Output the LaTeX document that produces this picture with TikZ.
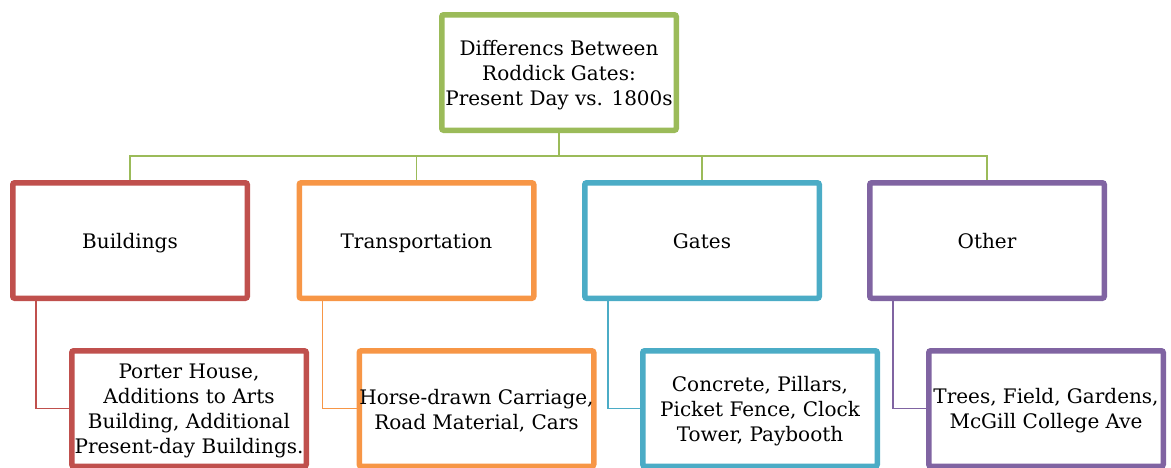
\documentclass[tikz,border=0pt]{standalone}
\usepackage{fontspec}
\setmainfont{DejaVu Serif}
\definecolor{cgreen}{HTML}{9BBB59}
\definecolor{cred}{HTML}{C0504D}
\definecolor{corange}{HTML}{F79646}
\definecolor{cblue}{HTML}{4BACC6}
\definecolor{cpurple}{HTML}{8064A2}
\newcommand\topst{\rule{0pt}{20pt}}
\newcommand\botst{\rule[-4pt]{0pt}{4pt}}
\begin{document}
\begin{tikzpicture}[x=1pt,y=-1pt,
  box/.style={draw=#1,line width=5.5pt,rounded corners=2pt,fill=white,
    minimum width=234.5pt,minimum height=115.5pt,inner sep=0pt,align=center,
    font=\fontsize{20}{25}\selectfont},
  conn/.style={draw=#1,line width=1.5pt}]
\useasboundingbox (0,0) rectangle (1171,467);
\clip (0,0) rectangle (1171,467);
\node[box=cgreen] (root) at (559,72.5) {\topst Differencs Between\\Roddick Gates:\\Present Day vs. 1800s\botst};
\node[box=cred] (c1) at (130,240.5) {\topst Buildings\botst};
\node[box=corange] (c2) at (416.5,240.5) {\topst Transportation\botst};
\node[box=cblue] (c3) at (702,240.5) {\topst Gates\botst};
\node[box=cpurple] (c4) at (987,240.5) {\topst Other\botst};
\node[box=cred] (g1) at (189,408.5) {\topst Porter House,\\Additions to Arts\\Building, Additional\\Present-day Buildings.\botst};
\node[box=corange] (g2) at (476.5,408.5) {\topst Horse-drawn Carriage,\\Road Material, Cars\botst};
\node[box=cblue] (g3) at (760,408.5) {\topst Concrete, Pillars,\\Picket Fence, Clock\\Tower, Paybooth\botst};
\node[box=cpurple] (g4) at (1046,408.5) {\topst Trees, Field, Gardens,\\McGill College Ave\botst};
\coordinate (bus) at (559,156);
\foreach \c in {c1,c2,c3,c4}
  \draw[conn=cgreen] (root.south) -- (root.south |- bus) -| (\c.north);
\draw[conn=cred] ([xshift=26pt]c1.south west) |- (g1.west);
\draw[conn=corange] ([xshift=26pt]c2.south west) |- (g2.west);
\draw[conn=cblue] ([xshift=26pt]c3.south west) |- (g3.west);
\draw[conn=cpurple] ([xshift=26pt]c4.south west) |- (g4.west);
\end{tikzpicture}
\end{document}
